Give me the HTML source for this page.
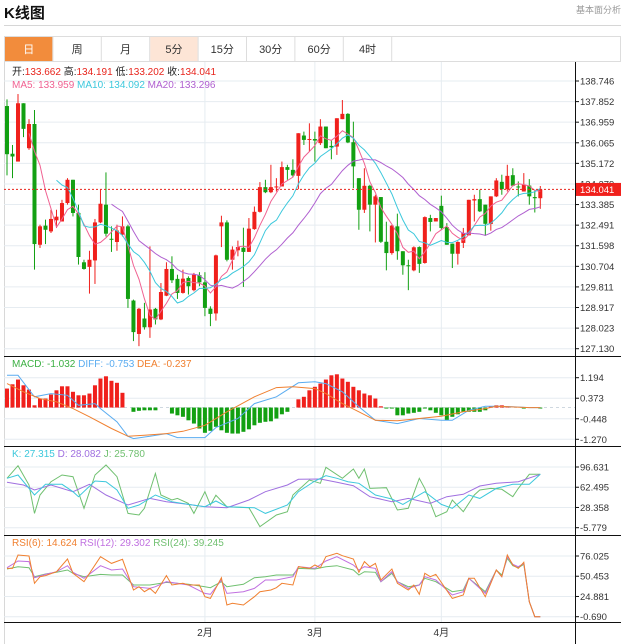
<!DOCTYPE html>
<html><head><meta charset="utf-8">
<style>
body{margin:0;background:#fff;width:621px;height:644px;overflow:hidden;font-family:"Liberation Sans","Noto Sans CJK SC",sans-serif}
svg{display:block}
text{font-family:"Liberation Sans","Noto Sans CJK SC",sans-serif}
</style></head>
<body>
<svg id="chart" width="621" height="644" viewBox="0 0 621 644" xmlns="http://www.w3.org/2000/svg">
<defs>
<clipPath id="cMain"><rect x="4" y="62" width="571" height="294"/></clipPath>
<clipPath id="cMacd"><rect x="4" y="357" width="571" height="89"/></clipPath>
<clipPath id="cKdj"><rect x="4" y="447" width="571" height="88"/></clipPath>
<clipPath id="cRsi"><rect x="4" y="536" width="571" height="86"/></clipPath>
</defs>
<text x="4" y="18" font-size="15" font-weight="bold" fill="#111">K线图</text>
<text x="576" y="13" font-size="9" fill="#999">基本面分析&gt;</text>
<line x1="4" y1="25.5" x2="621" y2="25.5" stroke="#d6d6d6"/>
<g>
<rect x="4.5" y="36.5" width="616" height="25" fill="#fff" stroke="#ddd"/>
<g id="tabs"></g>
</g>
<line x1="4.5" y1="62" x2="4.5" y2="644" stroke="#d8d8d8"/>
<g id="grid"></g>
<g id="main" clip-path="url(#cMain)"></g>
<g id="macd" clip-path="url(#cMacd)"></g>
<g id="kdj" clip-path="url(#cKdj)"></g>
<g id="rsi" clip-path="url(#cRsi)"></g>
<g id="axes"></g>
<g id="legends">
<text x="12" y="75" font-size="10"><tspan fill="#222">开:</tspan><tspan fill="#e8241c">133.662 </tspan><tspan fill="#222"> 高:</tspan><tspan fill="#e8241c">134.191 </tspan><tspan fill="#222"> 低:</tspan><tspan fill="#e8241c">133.202 </tspan><tspan fill="#222"> 收:</tspan><tspan fill="#e8241c">134.041</tspan></text>
<text x="12" y="88" font-size="10"><tspan fill="#f06292">MA5: 133.959 </tspan><tspan fill="#3cc8dc"> MA10: 134.092 </tspan><tspan fill="#b060d0"> MA20: 133.296</tspan></text>
<text x="12" y="367" font-size="10"><tspan fill="#3cb043">MACD: -1.032 </tspan><tspan fill="#5aacf0"> DIFF: -0.753 </tspan><tspan fill="#f08030"> DEA: -0.237</tspan></text>
<text x="12" y="457" font-size="10"><tspan fill="#3cc8dc">K: 27.315 </tspan><tspan fill="#a070e0"> D: 28.082 </tspan><tspan fill="#70c070"> J: 25.780</tspan></text>
<text x="12" y="546" font-size="10"><tspan fill="#f08030">RSI(6): 14.624 </tspan><tspan fill="#c070e0"> RSI(12): 29.302 </tspan><tspan fill="#70c070"> RSI(24): 39.245</tspan></text>
</g>
</svg>
<script>
const opens=[137.66,135.59,135.25,137.78,135.83,136.88,131.64,132.47,132.22,132.70,
132.65,133.45,134.46,133.02,130.88,130.68,130.96,132.61,133.38,131.90,
131.76,132.08,132.44,129.22,127.77,128.44,128.06,128.86,128.40,129.43,
130.59,130.16,129.55,130.20,129.67,130.32,130.01,128.87,128.66,132.44,
132.61,130.99,131.40,131.51,131.33,132.32,133.07,134.14,133.92,134.13,
134.17,135.01,134.89,134.63,136.38,136.19,136.23,136.05,136.77,135.93,
135.90,137.09,137.32,136.09,134.53,133.16,134.20,133.38,133.71,131.77,
131.28,132.44,131.36,130.75,130.53,131.54,130.85,132.80,132.65,133.33,
132.41,131.69,131.25,131.72,132.05,133.56,133.62,133.38,132.54,133.74,
134.37,134.05,134.66,134.17,133.95,134.21,133.71,133.66];
const closes=[135.57,135.47,137.78,136.67,136.88,131.67,132.44,132.29,132.76,132.86,
133.45,134.46,133.02,131.11,130.59,130.99,132.61,133.42,132.12,131.86,
132.26,132.44,129.29,127.85,128.86,128.06,128.83,128.40,129.59,130.59,
130.10,129.55,130.17,129.84,130.34,130.01,128.90,128.64,131.18,132.61,
130.99,131.43,131.54,131.33,132.34,133.07,134.14,133.92,134.14,134.17,
135.01,134.89,134.65,136.48,136.19,136.23,136.16,136.77,135.83,135.87,
137.13,137.32,136.08,135.04,133.16,134.20,133.38,133.74,131.77,131.28,
132.47,131.36,130.75,130.71,131.53,130.81,132.84,132.63,132.80,132.37,
131.64,131.25,131.76,132.15,133.59,133.62,133.09,132.55,133.74,134.43,
134.05,134.63,134.20,134.13,134.24,133.74,133.66,134.04];
const highs=[137.95,135.97,138.18,137.78,137.09,137.49,132.51,132.73,133.16,133.16,
133.59,134.53,134.46,133.38,130.99,131.38,132.76,134.03,134.78,132.44,
132.51,132.87,132.51,129.26,128.90,129.12,131.57,128.90,129.98,130.88,
131.14,130.34,130.56,130.27,130.42,130.45,130.45,128.97,131.21,132.90,
132.70,131.57,131.82,132.38,132.80,133.30,134.36,134.46,135.11,134.53,
135.25,135.11,135.35,136.48,136.55,136.91,136.55,137.09,136.77,136.19,
137.13,137.92,137.35,136.98,134.53,134.96,134.24,133.81,133.71,132.64,
132.50,132.99,131.36,130.99,131.57,131.57,132.87,132.94,132.80,133.77,
132.58,131.69,131.79,132.37,133.59,133.81,134.03,133.38,133.74,134.53,
134.68,135.11,134.96,134.39,134.75,134.49,134.03,134.19];
const lows=[134.65,134.53,135.25,136.31,135.76,130.56,131.50,131.67,132.15,132.37,
132.65,133.38,132.87,130.78,130.56,129.52,129.94,132.58,132.00,131.33,
131.38,132.00,128.90,127.46,127.24,127.96,127.60,128.18,128.37,129.41,
129.98,129.29,129.52,129.48,129.62,129.84,128.54,128.11,128.35,131.54,
130.92,130.56,131.14,129.81,131.33,132.29,133.04,133.88,133.88,133.95,
134.17,134.46,134.57,134.05,135.97,135.69,135.25,135.97,135.83,135.35,
135.54,137.09,136.05,134.10,132.29,133.02,132.22,131.74,131.72,130.53,
131.21,130.99,130.34,129.67,130.49,130.42,130.82,132.22,132.65,132.29,
131.64,130.63,130.78,131.50,132.05,132.65,133.06,132.03,132.25,133.71,
133.81,133.95,134.17,133.74,133.95,133.38,133.04,133.20];
const macdBars=[0.76,0.93,1.12,0.89,0.72,0.09,0.36,0.36,0.52,0.69,0.85,0.85,0.63,0.49,0.49,0.56,0.89,1.16,1.25,1.07,0.99,0.59,
0,-0.17,-0.13,-0.11,-0.11,-0.11,0,0,
-0.24,-0.31,-0.37,-0.51,-0.64,-0.84,-1.01,-0.93,-0.77,-0.91,-1.01,-1.04,-1.04,-0.97,-0.87,-0.71,-0.61,-0.57,-0.55,-0.44,-0.27,-0.17,
0,0.33,0.43,0.69,0.83,0.96,1.12,1.29,1.33,1.16,1.03,0.83,0.69,0.56,0.49,0.36,0.05,
-0.04,-0.04,
-0.31,-0.31,-0.24,-0.21,-0.17,-0.04,-0.11,-0.21,-0.31,-0.51,-0.37,-0.27,-0.17,-0.17,-0.17,-0.17,-0.11,0.05,0.09,0.09,0.05,0,0,-0.04,0,0,-0.02];
const diffIdx=[0,2,5,8,11,13,16,17,20,22,23,26,29,31,36,38,42,45,49,53,56,58,61,64,67,71,75,79,81,84,87,89,92,95,97];
const diffVal=[1.29,1.29,0.43,0.56,0.49,0.09,0.16,-0.04,-0.57,-1.15,-1.24,-1.15,-1.04,-1.2,-1.2,-0.8,-0.44,0.16,0.43,0.99,1.03,0.96,0.63,0.03,-0.51,-0.64,-0.44,-0.51,-0.51,-0.11,0.05,0.05,0.03,0,0];
const deaIdx=[0,3,6,9,12,15,19,22,25,29,32,36,40,45,49,52,56,58,61,64,67,71,75,79,83,87,89,95,97];
const deaVal=[0.96,0.63,0.36,0.23,-0.04,-0.37,-0.84,-1.15,-1.11,-1.04,-0.95,-0.71,-0.17,0.43,0.8,0.83,0.76,0.56,0.16,-0.17,-0.51,-0.53,-0.44,-0.35,-0.17,-0.04,0.05,0,0];
const kIdx=[0,2,5,7,10,12,13,16,18,20,22,24,27,30,33,36,38,40,45,47,51,53,56,58,60,62,64,67,70,72,76,79,81,84,86,89,92,95,97];
const kVal=[77.5,83.1,49.4,67.4,67.4,55,46.5,73,71.9,57.8,26.9,32.5,49.4,38.1,33.6,29.7,39.2,29.7,28,18.4,32.5,55,73,82,77.5,71.9,69.1,49.4,42.6,33.6,55,33.6,26.9,49.4,43.7,60.6,67.4,67.4,84.3];
const dIdx=[0,3,5,8,12,15,18,22,26,29,33,36,40,44,47,51,53,57,60,63,66,70,73,77,80,83,86,89,93,97];
const dVal=[70.8,66.2,57.8,66.2,55,67.4,49.4,32.5,43.7,38.1,33.6,29.7,28,40.9,55,66.2,75.8,76.4,70.8,65.1,46.5,38.1,43.7,35.3,46.5,50.5,64.5,69.1,71.9,84.3];
const jIdx=[0,2,4,5,6,8,10,12,14,16,18,20,22,24,25,27,28,30,31,33,34,36,37,38,40,44,46,49,51,52,55,57,58,61,63,64,65,66,69,71,73,75,76,78,80,81,83,85,86,88,90,92,93,95,97];
const jVal=[77.5,98.9,66.2,18.4,49.4,71.9,83.1,80.3,26.9,83.1,100,80.3,18.4,15.6,26.9,85.9,49.4,40.9,43.7,35.3,18.4,55,32.5,49,29.7,28,-4,15.6,21.2,49.4,74.7,69.1,96.1,77.5,93.3,77.5,93.3,60.6,61.7,24,26.9,77.5,60.6,12.8,21.2,40.9,21.2,49.4,57.8,60.6,59,46.5,60.6,84.3,84.3];
const rsi6Idx=[0,1,2,4,5,6,7,9,11,12,14,17,19,21,23,24,25,26,27,29,30,32,33,35,36,37,39,40,41,43,45,46,48,49,50,52,53,55,56,57,58,60,61,63,64,65,66,67,68,70,71,72,73,74,75,76,77,78,81,83,84,85,87,89,90,91,92,93,94,95,96,97];
const rsi6Val=[60.4,60.4,77.3,76.0,41.5,49.9,51.2,56.2,72.2,54.1,43.6,75.2,66.7,71.8,33.0,37.2,30.9,35.1,28.8,51.2,39.4,41.5,39.4,39.4,24.6,22.5,48.6,14.1,16.2,14.1,24.6,30.9,33.0,36.0,41.5,39.4,62.5,60.4,64.6,61.3,75.2,79.4,76.4,72.2,55.4,68.9,62.5,66.7,45.7,59.6,41.5,37.2,33.0,39.4,27.6,54.1,49.9,52.8,22.5,26.7,47.8,47.8,24.6,58.3,49.9,77.3,64.6,60.4,68.0,18.3,-0.7,-0.7];
const rsi12Idx=[0,2,4,5,7,9,11,12,14,17,19,21,23,26,27,29,33,36,37,39,40,43,45,47,49,52,53,56,58,60,63,64,65,67,68,70,71,73,75,76,78,81,83,84,87,89,90,91,92,93,94,95,96,97];
const rsi12Val=[61.3,69.7,68.9,48.6,52.8,56.2,63.8,55.4,47.8,63.8,58.3,59.6,37.2,35.1,37.2,43.6,39.4,28.8,27.6,45.7,28.8,30.9,35.1,45.7,45.7,49.9,62.5,60.4,69.7,75.2,64.6,58.3,62.5,60.4,43.6,56.2,43.6,35.1,39.4,49.9,45.7,26.7,30.9,47.8,28.8,58.3,49.9,75.2,65.5,62.5,66.7,18.3,-0.7,-0.7];
const rsi24Idx=[0,2,4,5,7,9,11,12,14,17,19,21,23,26,29,33,36,37,39,40,43,45,47,49,52,53,56,58,60,63,64,65,67,68,70,71,73,75,76,78,81,83,84,87,89,90,91,92,93,94,95,96,97];
const rsi24Val=[59.6,62.5,61.3,49.9,53.3,55.4,58.3,54.1,49.9,52.8,52.0,52.0,39.4,39.4,42.7,40.2,37.2,36.0,43.6,37.2,40.2,48.6,49.9,52.0,52.0,60.4,59.6,62.5,63.8,58.3,52.0,56.2,55.4,43.6,54.1,43.6,37.2,39.4,47.8,43.6,30.9,33.0,47.8,30.9,58.3,52.0,73.1,63.8,61.3,65.5,18.3,-0.7,-0.7];
const priceTicks=[138.746,137.852,136.959,136.065,135.172,134.279,133.385,132.491,131.598,130.704,129.811,128.917,128.023,127.130];
const macdTicks=[1.194,0.373,-0.448,-1.270];
const kdjTicks=[96.631,62.495,28.358,-5.779];
const rsiTicks=[76.025,50.453,24.881,-0.690];
const monthLabels=["2月","3月","4月"];
const monthIndex=[36,56,79];
const tabLabels=["日","周","月","5分","15分","30分","60分","4时"];
const lastPrice=134.041;

const NS="http://www.w3.org/2000/svg";
function mk(tag,attrs,parent){const e=document.createElementNS(NS,tag);for(const k in attrs)e.setAttribute(k,attrs[k]);parent.appendChild(e);return e;}
const N=closes.length;
const xS=i=>7+i*(533.3/(N-1));
const yP=p=>81+(138.746-p)*(267.7/(138.746-127.130));
const yM=v=>377.7+(1.194-v)*(61.6/2.464);
const yK=v=>467+(96.631-v)*(60.7/102.41);
const yR=v=>556+(76.025-v)*(60.7/76.715);
const RED="#f0201c",GREEN="#12a012";

const tabs=document.getElementById('tabs');
tabLabels.forEach((t,i)=>{
  const x=5+i*48.4;
  const r=mk('rect',{x:x,y:37,width:47.4,height:24,fill:i===0?"#f28c3c":(i===3?"#fde5d6":"#fff")},tabs);
  
  
  if(i>0)mk('line',{x1:x-0.5,y1:37,x2:x-0.5,y2:61,stroke:"#ddd"},tabs);
  const tx=mk('text',{x:x+23.7,y:53,'font-size':11,'text-anchor':'middle',fill:i===0?"#fff":"#333"},tabs);
  tx.textContent=t;
  
  
});
mk('line',{x1:5+8*48.4-0.5,y1:37,x2:5+8*48.4-0.5,y2:61,stroke:"#ddd"},tabs);

const grid=document.getElementById('grid');
const hl=(y)=>mk('line',{x1:4,y1:y,x2:575,y2:y,stroke:"#e6ecf1"},grid);
priceTicks.forEach(v=>hl(yP(v)));
macdTicks.forEach(v=>hl(yM(v)));
kdjTicks.forEach(v=>hl(yK(v)));
rsiTicks.forEach(v=>hl(yR(v)));
monthIndex.forEach(i=>mk('line',{x1:xS(i),y1:62,x2:xS(i),y2:622,stroke:"#e6ecf1"},grid));

const main=document.getElementById('main');
for(let i=0;i<N;i++){
  const up=closes[i]>=opens[i];const c=up?RED:GREEN;const x=xS(i);
  const w=mk('line',{x1:x,y1:yP(highs[i]),x2:x,y2:yP(lows[i]),stroke:c,'stroke-width':1},main);
  
  
  const y1=yP(Math.max(opens[i],closes[i])),y2=yP(Math.min(opens[i],closes[i]));
  const b=mk('rect',{x:x-2,y:y1,width:4,height:Math.max(1,y2-y1),fill:c},main);
  
  
}
function sma(n){return closes.map((_,i)=>{if(i<n-1)return null;let s=0;for(let k=i-n+1;k<=i;k++)s+=closes[k];return s/n;});}
function line(g,vals,fy,color,name){
  let d="";vals.forEach((v,i)=>{if(v==null||isNaN(v))return;d+=(d?"L":"M")+xS(i).toFixed(1)+","+fy(v).toFixed(1);});
  const p=mk('path',{d:d,fill:"none",stroke:color,'stroke-width':1},g);
  
  
}
function sparse(g,idx,vals,fy,color,name){
  let d="";idx.forEach((ix,k)=>{d+=(d?"L":"M")+xS(ix).toFixed(1)+","+fy(vals[k]).toFixed(1);});
  const p=mk('path',{d:d,fill:"none",stroke:color,'stroke-width':1},g);
  
  
}
line(main,sma(5),yP,"#f06292","ma5-line");
line(main,sma(10),yP,"#3cc8dc","ma10-line");
line(main,sma(20),yP,"#b060d0","ma20-line");
const pl=mk('line',{x1:4,y1:yP(lastPrice),x2:575,y2:yP(lastPrice),stroke:"#e8241c",'stroke-dasharray':"2,2"},main);



const macdG=document.getElementById('macd');
mk('line',{x1:4,y1:yM(0),x2:575,y2:yM(0),stroke:"#cfd8e0",'stroke-dasharray':"3,3"},macdG);
macdBars.forEach((v,i)=>{if(v===0)return;const y0=yM(0),y=yM(v);
  const r=mk('rect',{x:xS(i)-2,y:Math.min(y0,y),width:4,height:Math.max(1,Math.abs(y-y0)),fill:v>=0?RED:GREEN},macdG);
  
  
});
sparse(macdG,diffIdx,diffVal,yM,"#5aacf0","diff-line");
sparse(macdG,deaIdx,deaVal,yM,"#f08030","dea-line");

const kdjG=document.getElementById('kdj');
sparse(kdjG,jIdx,jVal,yK,"#70c070","j-line");
sparse(kdjG,dIdx,dVal,yK,"#a070e0","d-line");
sparse(kdjG,kIdx,kVal,yK,"#3cc8dc","k-line");

const rsiG=document.getElementById('rsi');
sparse(rsiG,rsi24Idx,rsi24Val,yR,"#70c070","rsi24-line");
sparse(rsiG,rsi12Idx,rsi12Val,yR,"#c070e0","rsi12-line");
sparse(rsiG,rsi6Idx,rsi6Val,yR,"#f08030","rsi6-line");

const ax=document.getElementById('axes');
mk('line',{x1:575.5,y1:62,x2:575.5,y2:644,stroke:"#111"},ax);
[356.5,446.5,535.5,622.5].forEach(y=>mk('line',{x1:4,y1:y,x2:621,y2:y,stroke:"#111"},ax));
function ticks(arr,fy,name){arr.forEach(v=>{const y=fy(v);
  mk('line',{x1:575,y1:y,x2:579,y2:y,stroke:"#111"},ax);
  const t=mk('text',{x:580,y:y+3.5,'font-size':9.5,fill:"#333"},ax);t.textContent=v.toFixed(3);
  
  });}
ticks(priceTicks,yP,"price-tick-label");
ticks(macdTicks,yM,"macd-tick-label");
ticks(kdjTicks,yK,"kdj-tick-label");
ticks(rsiTicks,yR,"rsi-tick-label");
monthLabels.forEach((m,k)=>{const t=mk('text',{x:xS(monthIndex[k]),y:636,'font-size':10,'text-anchor':'middle',fill:"#333"},ax);t.textContent=m;
  
  });
const tag=mk('rect',{x:576,y:yP(lastPrice)-6.5,width:45,height:13,fill:"#f0201c"},ax);


const tt=mk('text',{x:580,y:yP(lastPrice)+3.5,'font-size':9.5,fill:"#fff"},ax);tt.textContent=lastPrice.toFixed(3);


</script>
</body></html>
